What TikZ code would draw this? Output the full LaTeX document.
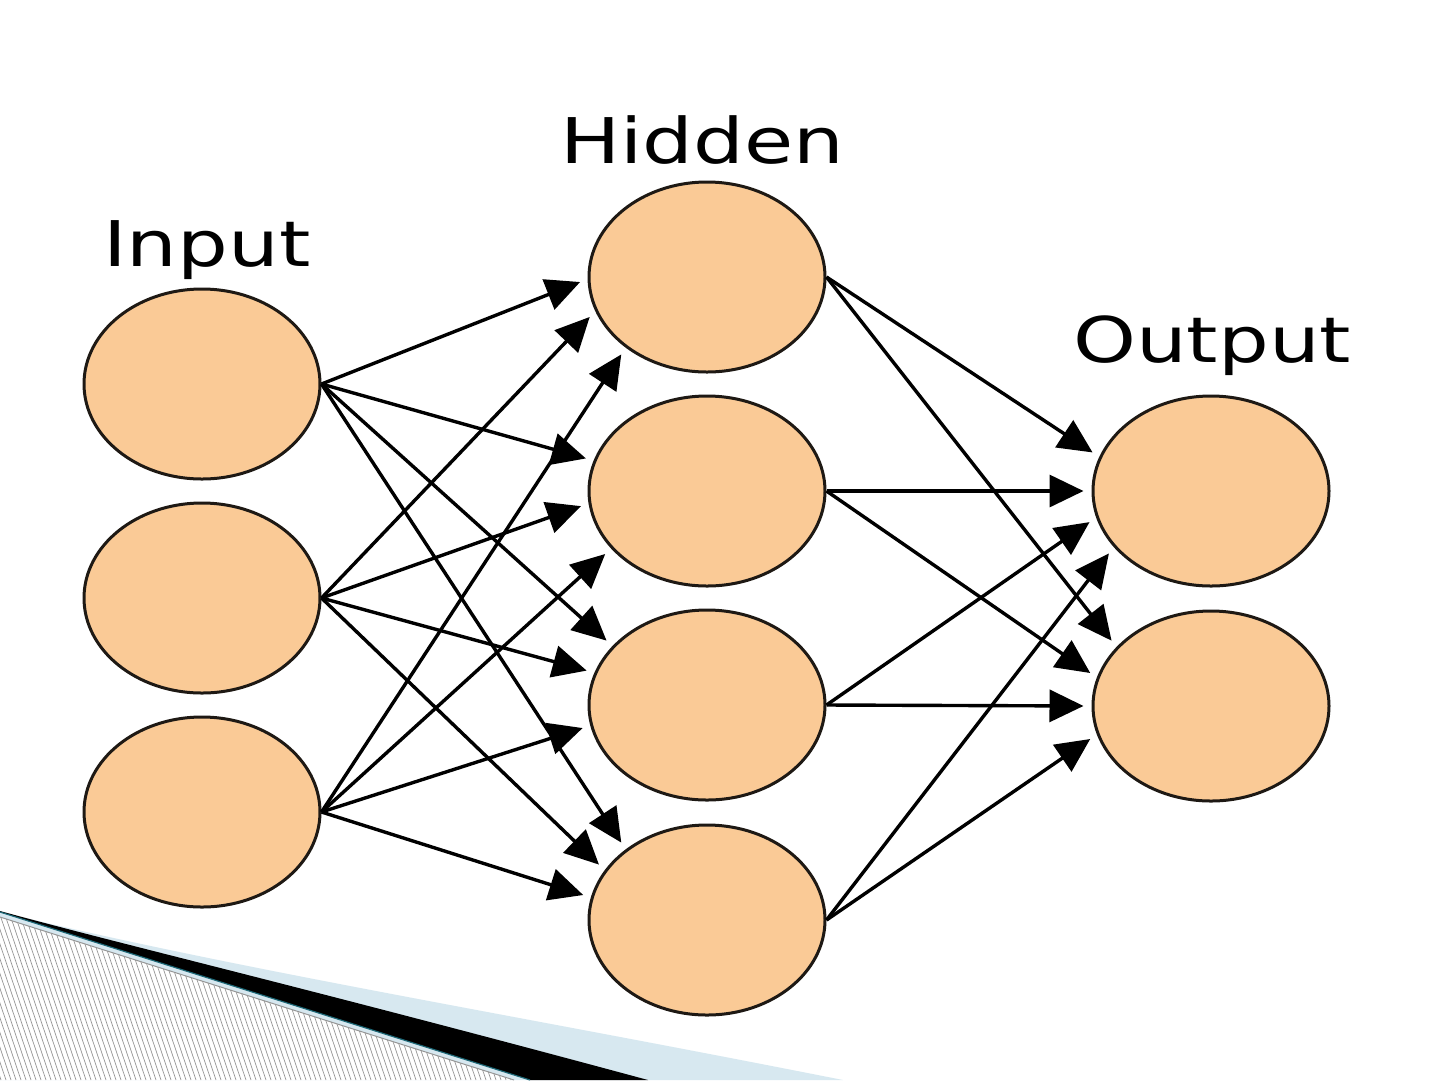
\documentclass[tikz,border=0pt]{standalone}
\usepackage{fontspec}
\usetikzlibrary{shapes.geometric,arrows.meta}
\newfontfamily\labfont[FakeStretch=1.27]{DejaVu Sans}
\definecolor{peach}{RGB}{250,202,150}
\definecolor{rimcol}{RGB}{30,25,20}
\definecolor{paleblue}{RGB}{215,232,240}
\definecolor{tealline}{RGB}{30,105,120}
\definecolor{hatchgray}{RGB}{150,150,150}
\tikzset{
  neuron/.style={ellipse, draw=rimcol, fill=peach, line width=3pt,
    minimum width=236pt, minimum height=190pt, inner sep=0pt},
  conn/.style={draw=black, line width=3.4pt,
    -{Triangle[length=34pt,width=32pt]}, shorten >=8pt},
  layerlabel/.style={anchor=base west, inner sep=0pt,
    font=\labfont\fontsize{63}{70}\selectfont}
}
\begin{document}
\begin{tikzpicture}[x=1pt,y=-1pt]
\useasboundingbox (0,0) rectangle (1440,1080);
\fill[white] (0,0) rectangle (1440,1080);

% bottom-left decoration
\fill[paleblue] (0,912) .. controls (250,972) and (500,1012) .. (843,1080) -- (0,1080) -- cycle;
\fill[black] (0,911) .. controls (120,944) and (300,986) .. (648,1080) -- (530,1080) -- (0,912) -- cycle;
\draw[tealline, line width=1.2pt] (0,912) -- (530,1080);
\begin{scope}
  \clip (0,917) -- (514,1080) -- (0,1080) -- cycle;
  \fill[white] (0,917) -- (514,1080) -- (0,1080) -- cycle;
  \foreach \i in {-15,...,105} {
    \draw[hatchgray, line width=0.7pt] (\i*5, 900) -- (\i*5+61, 1080);
  }
\end{scope}
\draw[hatchgray, line width=1pt] (0,917) -- (514,1080);

% layer labels
\node[layerlabel] (lin) at (103,266) {Input};
\node[layerlabel] (lhid) at (560,163) {Hidden};
\node[layerlabel] (lout) at (1073,362) {Output};

% neurons
\node[neuron] (i1) at (202,384) {};
\node[neuron] (i2) at (202,598) {};
\node[neuron] (i3) at (202,812) {};
\node[neuron] (h1) at (707,277) {};
\node[neuron] (h2) at (707,491) {};
\node[neuron] (h3) at (707,705) {};
\node[neuron] (h4) at (707,920) {};
\node[neuron] (o1) at (1211,491) {};
\node[neuron] (o2) at (1211,706) {};

% connections (source east point -> target border point at given angle)
\foreach \a/\b/\ang in {i1/h1/181, i2/h1/197, i3/h1/221,
                        i1/h2/165, i2/h2/186, i3/h2/211,
                        i1/h3/148, i2/h3/164, i3/h3/190,
                        i1/h4/139, i2/h4/154, i3/h4/169,
                        h1/o1/163, h2/o1/180, h3/o1/193, h4/o1/210,
                        h1/o2/148, h2/o2/166, h3/o2/180, h4/o2/194} {
  \draw[conn] (\a.east) -- (\b.\ang);
}
\end{tikzpicture}
\end{document}
